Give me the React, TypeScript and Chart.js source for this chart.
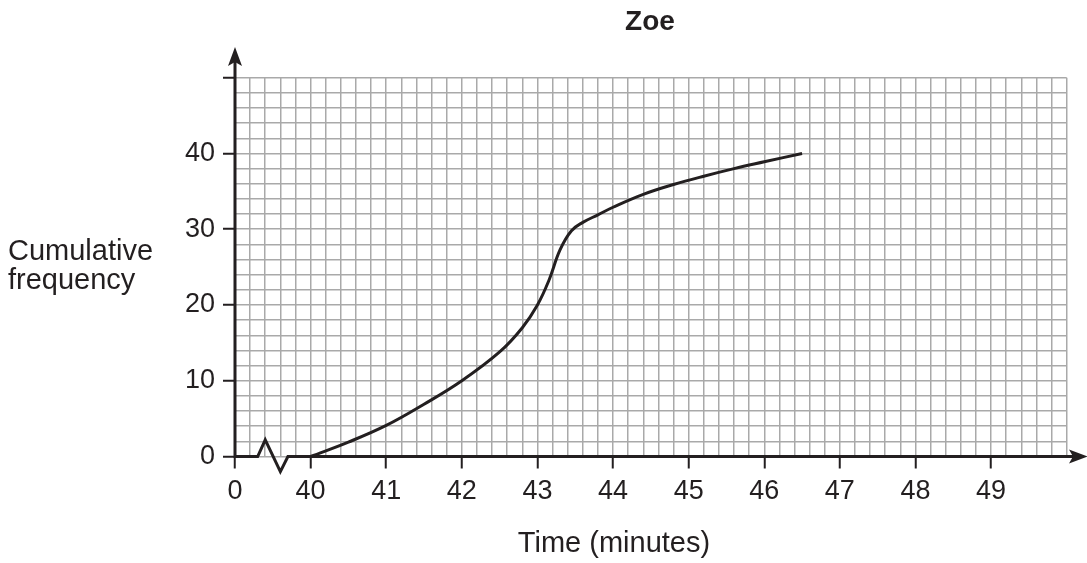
import { useEffect, useRef } from 'react';
import { Chart, registerables } from 'chart.js';

Chart.register(...registerables);

const titleText = 'Zoe';
const yTitleLines = ['Cumulative', 'frequency'];
const xTitleText = 'Time (minutes)';
const xTickLabels = ['0', '40', '41', '42', '43', '44', '45', '46', '47', '48', '49'];
const yTickLabels = ['0', '10', '20', '30', '40'];
const yTickStep = 10;

// cumulative frequency curve (time in minutes)
const times = [40, 40.5, 41, 41.5, 42, 42.5, 42.8, 43, 43.15, 43.3, 43.45, 43.6, 43.8, 44, 44.4, 44.8, 45.2, 45.6, 46, 46.5];
const cumFreq = [0, 1.9, 4.1, 6.9, 10, 13.8, 17, 20, 23.2, 27.3, 29.8, 30.9, 31.9, 32.9, 34.6, 35.9, 37, 38, 38.9, 40];

// broken axis: "0" sits one unit before 40
const breakOffset = 39;
const breakU = [0, 0.3, 0.4, 0.6, 0.7];
const breakY = [0, 0, 2.2, -2, 0];

const INK = '#231f20';
const GRID = '#a9a9a9';
const FONT = "'Liberation Sans', Arial, sans-serif";

const isMajorX = (v: number) => {
  const r = Math.round(v * 10) / 10;
  return Number.isInteger(r) && r <= 10;
};
const isMajorY = (v: number) => Math.round(v) % yTickStep === 0;

const decor = {
  id: 'decor',
  beforeDatasetsDraw(chart: any) {
    const { ctx, scales } = chart;
    const xs = scales.x;
    const ys = scales.y;
    const y0 = ys.getPixelForValue(0);
    const x0 = xs.getPixelForValue(0);
    ctx.save();
    ctx.strokeStyle = INK;
    ctx.fillStyle = INK;
    ctx.lineWidth = 3;
    ctx.lineJoin = 'miter';
    // y axis
    ctx.beginPath();
    ctx.moveTo(x0, y0 + 1.5);
    ctx.lineTo(x0, 62);
    ctx.stroke();
    ctx.beginPath();
    ctx.moveTo(x0, 47);
    ctx.lineTo(x0 - 7, 66);
    ctx.lineTo(x0, 62);
    ctx.lineTo(x0 + 7, 66);
    ctx.closePath();
    ctx.fill();
    // x axis with break
    ctx.beginPath();
    breakU.forEach((u, i) => {
      const px = xs.getPixelForValue(u);
      const py = ys.getPixelForValue(breakY[i]);
      if (i === 0) ctx.moveTo(px, py);
      else ctx.lineTo(px, py);
    });
    ctx.lineTo(1074, y0);
    ctx.stroke();
    ctx.beginPath();
    ctx.moveTo(1088, y0);
    ctx.lineTo(1069, y0 - 7);
    ctx.lineTo(1073, y0);
    ctx.lineTo(1069, y0 + 7);
    ctx.closePath();
    ctx.fill();
    ctx.restore();
  },
  afterDraw(chart: any) {
    const { ctx } = chart;
    ctx.save();
    ctx.fillStyle = INK;
    ctx.font = `bold 28px ${FONT}`;
    ctx.textAlign = 'center';
    ctx.textBaseline = 'alphabetic';
    ctx.fillText(titleText, 650, 30);
    ctx.font = `29px ${FONT}`;
    ctx.textAlign = 'left';
    ctx.fillText(yTitleLines[0], 8, 260);
    ctx.fillText(yTitleLines[1], 8, 289);
    ctx.textAlign = 'center';
    ctx.fillText(xTitleText, 614, 552);
    ctx.restore();
  },
};

export default function App() {
  const ref = useRef<HTMLCanvasElement>(null);
  useEffect(() => {
    if (!ref.current) return;
    const chart = new Chart(ref.current, {
      type: 'line',
      data: {
        datasets: [
          {
            data: times.map((t, i) => ({ x: t - breakOffset, y: cumFreq[i] })),
            borderColor: INK,
            borderWidth: 3,
            pointRadius: 0,
            tension: 0.4,
            fill: false,
          },
        ],
      },
      plugins: [decor],
      options: {
        responsive: false,
        animation: false,
        devicePixelRatio: 1,
        layout: { padding: { top: 77.7, right: 20.3, left: 0, bottom: 0 } },
        plugins: { legend: { display: false }, title: { display: false }, tooltip: { enabled: false } },
        scales: {
          x: {
            type: 'linear',
            min: 0,
            max: 11,
            afterFit: (s: any) => {
              s.height = 106.5;
            },
            border: { display: false },
            grid: {
              color: GRID,
              lineWidth: 1.5,
              tickLength: 12,
              tickWidth: 2,
              tickColor: (c: any) => (c.tick && isMajorX(c.tick.value) ? INK : 'rgba(0,0,0,0)'),
            },
            ticks: {
              stepSize: 0.2,
              autoSkip: false,
              maxRotation: 0,
              padding: 7,
              color: INK,
              font: { family: FONT, size: 27 },
              callback: (v: any) => {
                const r = Math.round(Number(v) * 10) / 10;
                return Number.isInteger(r) && r <= 10 ? xTickLabels[r] : '';
              },
            },
          },
          y: {
            type: 'linear',
            min: 0,
            max: 50,
            afterFit: (s: any) => {
              s.width = 235;
            },
            border: { display: false },
            grid: {
              color: GRID,
              lineWidth: 1.5,
              tickLength: 12,
              tickWidth: 2,
              tickColor: (c: any) => (c.tick && isMajorY(c.tick.value) ? INK : 'rgba(0,0,0,0)'),
            },
            ticks: {
              stepSize: 2,
              autoSkip: false,
              padding: 8,
              color: INK,
              font: { family: FONT, size: 27 },
              callback: (v: any) => {
                const n = Math.round(Number(v));
                return n % yTickStep === 0 && n / yTickStep < yTickLabels.length ? yTickLabels[n / yTickStep] : '';
              },
            },
          },
        },
      },
    } as any);
    return () => chart.destroy();
  }, []);
  return (
    <div style={{ position: 'absolute', left: 0, top: 0, width: 1087, height: 563, background: '#fff' }}>
      <canvas ref={ref} width={1087} height={563} style={{ display: 'block' }} />
    </div>
  );
}
